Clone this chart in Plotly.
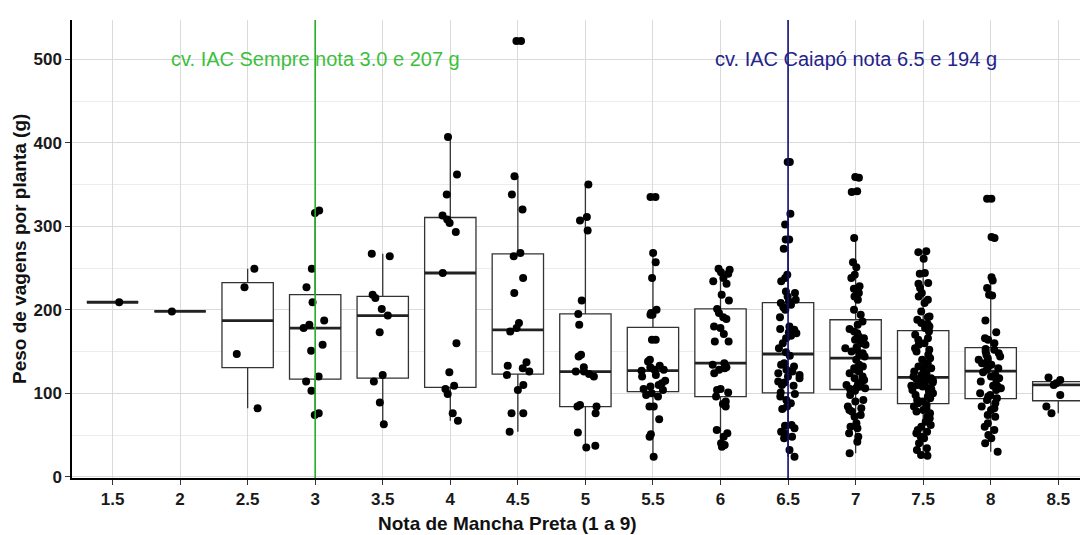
import numpy as np
import plotly.graph_objects as go

# ---- data ----
categories = ["1.5", "2", "2.5", "3", "3.5", "4", "4.5", "5", "5.5", "6", "6.5", "7", "7.5", "8", "8.5"]

v1_5 = [209]
v2_0 = [198]
v2_5 = [249, 227, 147, 82]
v3_0 = [319, 316, 249, 227, 209, 187, 182, 178, 158, 151, 120, 114, 103, 76, 74]
v3_5 = [267, 264, 218, 214, 201, 193, 173, 122, 114, 89, 63]
v4_0 = [407, 362, 338, 313, 308, 304, 293, 244, 160, 125, 109, 105, 99, 76, 67]
v4_5 = [522, 522, 360, 338, 320, 268, 264, 238, 220, 184, 178, 174, 137, 133, 130, 126, 122, 110, 104, 76, 76, 54]
v5_0 = [350, 311, 307, 295, 211, 195, 182, 146, 144, 131, 126, 126, 123, 120, 86, 84, 84, 76, 53, 37, 35]
v5_5 = [335, 335, 268, 257, 238, 200, 196, 194, 194, 164, 164, 140, 138, 133, 131, 128, 128, 127,
        122, 120, 115, 112, 110, 108, 105, 104, 100, 98, 96, 84, 84, 69, 51, 48, 24]
v6_0 = [249, 248, 245, 243, 238, 234, 231, 218, 211, 201, 196, 191, 189, 180, 178, 171, 162, 162,
        136, 134, 131, 130, 128, 124, 105, 104, 101, 96, 90, 87, 84, 56, 52, 48, 40, 38, 36]
v6_5 = [377, 377, 315, 302, 284, 284, 273, 242, 238, 234, 222, 220, 216, 212, 210,
        208, 206, 203, 200, 191, 180, 177, 176, 173, 172, 169, 166, 160, 154, 149,
        145, 136, 134, 132, 128, 126, 124, 122, 120, 118, 114, 113, 110, 109, 101,
        99, 96, 92, 88, 84, 81, 62, 61, 58, 54, 52, 48, 46, 32, 24]
v7_0 = [359, 358, 342, 341, 286, 257, 251, 242, 238, 228, 225, 220, 218, 216, 212, 200, 194,
        186, 182, 177, 174, 172, 168, 166, 164, 160, 158, 155, 154, 152, 150, 148, 146, 144,
        140, 134, 132, 130, 128, 126, 124, 120, 118, 116, 114, 112, 110, 108, 107, 106, 105,
        103, 98, 92, 90, 84, 82, 80, 78, 74, 72, 64, 60, 58, 52, 48, 42, 28]
v7_5 = [270, 269, 261, 244, 243, 232, 231, 226, 220, 216, 212, 208, 198, 192, 191, 188, 184, 183, 182, 180, 178,
        174, 170, 166, 164, 160, 158, 154, 152, 150, 146, 142, 140, 136, 134, 132, 130, 128, 126, 124, 122, 120,
        118, 117, 116, 115, 114, 113, 112, 110, 109, 108, 106, 105, 104, 102, 100, 98, 96, 94, 92, 90, 88,
        86, 84, 82, 80, 78, 76, 72, 70, 66, 62, 60, 56, 54, 52, 48, 46, 40, 34, 32, 26, 25]
v8_0 = [333, 333, 287, 286, 239, 235, 226, 218, 217, 187, 173, 166, 164, 160,
        153, 152, 150, 148, 146, 144, 142, 140, 138, 136, 134, 132, 130, 128,
        125, 122, 120, 118, 116, 114, 109, 108, 106, 104, 100, 98, 96, 94,
        92, 88, 84, 82, 80, 74, 72, 64, 60, 56, 50, 46, 40, 30]
v8_5 = [119, 116, 112, 110, 98, 84, 76]

groups = [v1_5, v2_0, v2_5, v3_0, v3_5, v4_0, v4_5, v5_0, v5_5, v6_0, v6_5, v7_0, v7_5, v8_0, v8_5]

y_ticks = [0, 100, 200, 300, 400, 500]
# (line category, label category, label text, label y, line colour, text colour)
ref_cultivars = [("3", "3", "cv. IAC Sempre nota 3.0 e 207 g", 500, "#22b322", "#3cbf3c"),
                 ("6.5", "7", "cv. IAC Caiapó nota 6.5 e 194 g", 500, "#10107a", "#23238a")]

# ---- box statistics computed from the data (ggplot / R type-7 quantiles) ----
q1s, meds, q3s, lfs, ufs = [], [], [], [], []
for g in groups:
    a = np.array(g, dtype=float)
    q1, med, q3 = np.percentile(a, [25, 50, 75])
    iqr = q3 - q1
    lf = a[a >= q1 - 1.5 * iqr].min()
    uf = a[a <= q3 + 1.5 * iqr].max()
    q1s.append(q1); meds.append(med); q3s.append(q3); lfs.append(lf); ufs.append(uf)

pts_x, pts_y = [], []
for c, g in zip(categories, groups):
    pts_x += [c] * len(g)
    pts_y += list(g)

BOXW = 0.76
FONT = "Liberation Sans, Arial, sans-serif"
fig = go.Figure()
# boxes with whiskers
fig.add_trace(go.Box(
    x=categories, q1=q1s, median=meds, q3=q3s, lowerfence=lfs, upperfence=ufs,
    boxpoints=False, width=BOXW, whiskerwidth=0,
    fillcolor="white", line=dict(color="#333333", width=1.3),
    hoverinfo="skip",
))
# thick median lines
fig.add_trace(go.Box(
    x=categories, q1=meds, median=meds, q3=meds, lowerfence=meds, upperfence=meds,
    boxpoints=False, width=BOXW, whiskerwidth=0,
    fillcolor="rgba(0,0,0,0)", line=dict(color="#222222", width=2.8),
    hoverinfo="skip",
))
# jittered points
fig.add_trace(go.Box(
    x=pts_x, y=pts_y, boxpoints="all", jitter=0.5, pointpos=0, width=BOXW,
    whiskerwidth=0, fillcolor="rgba(0,0,0,0)",
    line=dict(color="rgba(0,0,0,0)", width=0),
    marker=dict(color="black", size=8, line=dict(width=0)),
    hoverinfo="y",
))

shapes = []
annotations = []
for cat, tcat, txt, ty, lcol, tcol in ref_cultivars:
    xi = categories.index(cat)
    shapes.append(dict(type="line", xref="x", yref="paper", x0=xi, x1=xi, y0=0, y1=1,
                       line=dict(color=lcol, width=1.6), layer="above"))
    annotations.append(dict(x=categories.index(tcat), y=ty, xref="x", yref="y",
                            text=txt, showarrow=False, xanchor="center", yanchor="middle",
                            font=dict(family=FONT, size=20, color=tcol)))

annotations.append(dict(x=0.429, y=-0.1004, xref="paper", yref="paper", showarrow=False,
                        text="Nota de Mancha Preta (1 a 9)", xanchor="center", yanchor="middle",
                        font=dict(family=FONT, size=19, color="#111111", weight="bold")))
annotations.append(dict(x=-0.0522, y=0.5, xref="paper", yref="paper", showarrow=False,
                        text="Peso de vagens por planta (g)", textangle=-90,
                        xanchor="center", yanchor="middle",
                        font=dict(family=FONT, size=19, color="#111111", weight="bold")))

# the page body has an 8px margin, so the figure is 8px smaller and margins shifted
fig.update_layout(
    width=1080, height=527,
    margin=dict(l=64, r=0, t=12, b=57),
    plot_bgcolor="white", paper_bgcolor="white",
    boxmode="overlay", showlegend=False,
    shapes=shapes, annotations=annotations,
)
fig.update_xaxes(
    type="category", categoryorder="array", categoryarray=categories,
    range=[-0.6, 14.44],
    showgrid=True, gridcolor="#dadada", gridwidth=1,
    showline=True, linecolor="black", linewidth=1.5,
    ticks="outside", ticklen=5, tickcolor="#333333", tickwidth=1.2,
    tickfont=dict(family=FONT, size=17, color="#1a1a1a", weight="bold"),
    zeroline=False,
)
fig.update_yaxes(
    range=[-1.5, 547], tickvals=y_ticks,
    showgrid=True, gridcolor="#dadada", gridwidth=1,
    minor=dict(dtick=50, tick0=0, showgrid=True, gridcolor="#ececec", gridwidth=1),
    showline=True, linecolor="black", linewidth=1.5,
    ticks="outside", ticklen=5, tickcolor="#333333", tickwidth=1.2,
    tickfont=dict(family=FONT, size=17, color="#1a1a1a", weight="bold"),
    zeroline=False,
)

fig.write_html("out.html")
